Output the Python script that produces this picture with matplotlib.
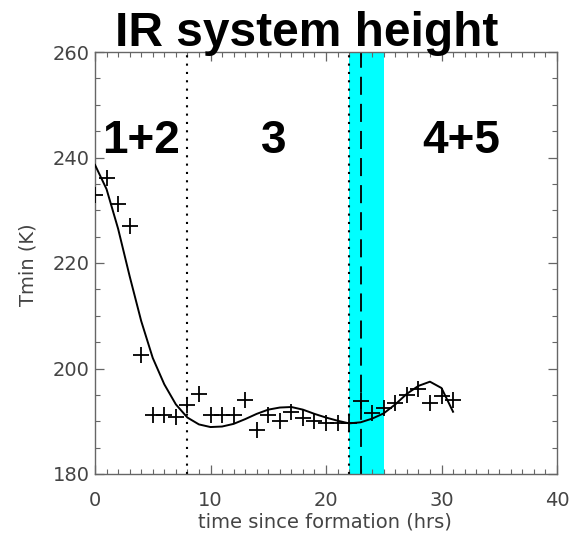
import matplotlib
matplotlib.use("Agg")
import matplotlib.pyplot as plt
from matplotlib.ticker import MultipleLocator

# Observed minimum temperature (plus markers)
obs_time = [0, 1, 2, 3, 4, 5, 6, 7, 8, 9, 10, 11, 12, 13, 14, 15, 16, 17, 18,
            19, 20, 21, 22, 23, 24, 25, 26, 27, 28, 29, 30, 31]
obs_tmin = [232.9, 236.1, 231.1, 227.0, 202.5, 191.2, 191.2, 190.8, 193.1, 195.2,
            191.2, 191.2, 191.2, 194.1, 188.4, 191.2, 190.0, 191.8, 190.6, 190.1,
            189.7, 189.6, 189.6, 193.8, 191.6, 192.6, 193.4, 195.0, 196.2, 193.5,
            194.7, 194.1]

# Smoothed fit curve
fit_time = [0, 1, 2, 3, 4, 5, 6, 7, 8, 9, 10, 11, 12, 13, 14, 15, 16, 17, 18,
            19, 20, 21, 22, 23, 24, 25, 26, 27, 28, 29, 30, 31]
fit_tmin = [238.6, 234.0, 226.5, 217.5, 209.0, 202.0, 197.0, 193.2, 190.7, 189.4,
            188.9, 189.0, 189.5, 190.4, 191.4, 192.2, 192.6, 192.7, 192.2, 191.4,
            190.7, 190.1, 189.6, 189.8, 190.5, 191.5, 193.2, 195.2, 196.7, 197.5,
            196.3, 191.8]

# Phase boundaries and highlighted band
dotted_lines = [8, 22]
dashed_line = 23
band = [22, 25]
phase_labels = ["1+2", "3", "4+5"]
phase_x = [3.95, 15.5, 31.7]
phase_y = 240.9

title = "IR system height"
xlabel = "time since formation (hrs)"
ylabel = "Tmin (K)"

fig = plt.figure(figsize=(5.71, 5.33), dpi=100)
ax = fig.add_axes([95/571, 59/533, 462/571, 422/533])

ax.axvspan(band[0], band[1], color="#00ffff", lw=0, zorder=1)
for xv in dotted_lines:
    ax.axvline(xv, color="black", ls=(0, (1, 3)), lw=1.5, zorder=2)
ax.axvline(dashed_line, color="black", ls=(0, (10, 5)), lw=1.3, zorder=2)

ax.plot(fit_time, fit_tmin, color="black", lw=1.4, zorder=3)
ax.plot(obs_time, obs_tmin, ls="none", marker="+", ms=12, mew=1.3,
        color="black", zorder=4, clip_on=True)

for lab, xp in zip(phase_labels, phase_x):
    ax.text(xp, phase_y, lab, ha="center", va="baseline", fontsize=33,
            fontweight="bold", family="Liberation Sans", color="black", zorder=5)

ax.set_xlim(0, 40)
ax.set_ylim(180, 260)
ax.xaxis.set_major_locator(MultipleLocator(10))
ax.xaxis.set_minor_locator(MultipleLocator(1))
ax.yaxis.set_major_locator(MultipleLocator(20))
ax.yaxis.set_minor_locator(MultipleLocator(5))

frame_col = "#666666"
text_col = "#444444"
for sp in ax.spines.values():
    sp.set_color(frame_col)
    sp.set_linewidth(1.0)
ax.tick_params(which="both", direction="in", top=True, right=True,
               color=frame_col, labelcolor=text_col, labelsize=14)
ax.tick_params(which="major", length=6.5, width=0.9)
ax.tick_params(which="minor", length=3.3, width=0.8)
ax.tick_params(axis="x", which="major", pad=12.5)
ax.tick_params(axis="y", which="major", pad=4)

ax.set_xlabel(xlabel, fontsize=14, color=text_col)
ax.xaxis.set_label_coords(0.498, -0.091)
ax.set_ylabel(ylabel, fontsize=14, color=text_col)
ax.yaxis.set_label_coords(-0.125, 0.495)

fig.text(306.5/571, 1 - 46/533, title, ha="center", va="baseline", fontsize=34.5,
         fontweight="bold", family="Liberation Sans", color="black", zorder=10)

fig.savefig("out.png", dpi=100)
